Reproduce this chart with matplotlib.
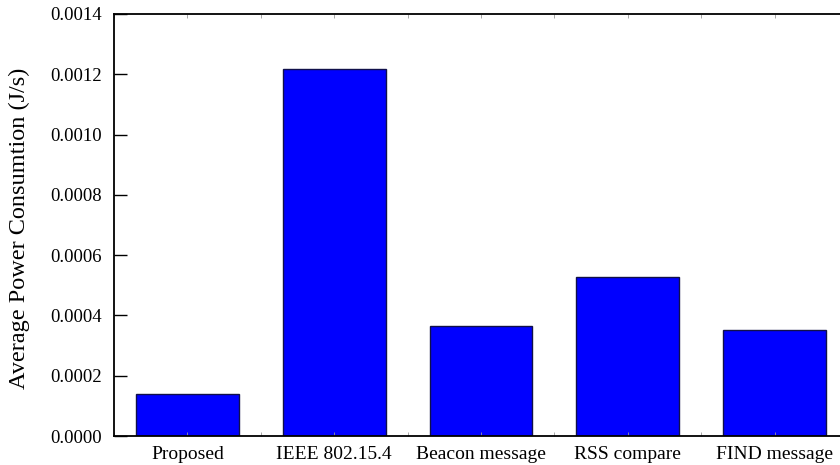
import matplotlib
matplotlib.use("Agg")
import matplotlib.pyplot as plt
from matplotlib.ticker import MultipleLocator, FormatStrFormatter

categories = ["Proposed", "IEEE 802.15.4", "Beacon message", "RSS compare", "FIND message"]
power = [0.000138, 0.001217, 0.000365, 0.000527, 0.000353]

plt.rcParams["font.family"] = ["Liberation Serif", "DejaVu Serif"]

fig = plt.figure(figsize=(8.4, 4.65), dpi=100)
# axes run past the right edge of the picture, like the original crop
ax = fig.add_axes([114 / 840, 29 / 465, (848 - 114) / 840, (436 - 14) / 465])

x = list(range(len(categories)))
ax.bar(x, power, width=0.7, color="#0000ff", edgecolor="#10104a", linewidth=1.0)

ax.set_xlim(-0.5, len(categories) - 0.5)
ax.set_ylim(0, 0.0014)
ax.yaxis.set_major_locator(MultipleLocator(0.0002))
ax.yaxis.set_major_formatter(FormatStrFormatter("%.4f"))
ax.set_xticks(x)
ax.set_xticklabels(categories)
ax.xaxis.set_minor_locator(MultipleLocator(0.5))

ax.tick_params(axis="y", direction="in", length=9, width=1.0, labelsize=13.5,
               right=False, pad=8.5)
ax.tick_params(axis="x", which="major", direction="in", length=3, width=0.6,
               color="#999999", labelcolor="black", labelsize=14, top=True, pad=7)
ax.tick_params(axis="x", which="minor", direction="in", length=3, width=0.6,
               color="#999999", top=True)

for side in ["left", "bottom", "top"]:
    ax.spines[side].set_linewidth(1.3)
ax.spines["right"].set_visible(False)

fig.text(19 / 840, 1 - 228 / 465, "Average Power Consumtion (J/s)", fontsize=17.5,
         rotation=90, ha="center", va="center")

fig.savefig("out.png", dpi=100)
